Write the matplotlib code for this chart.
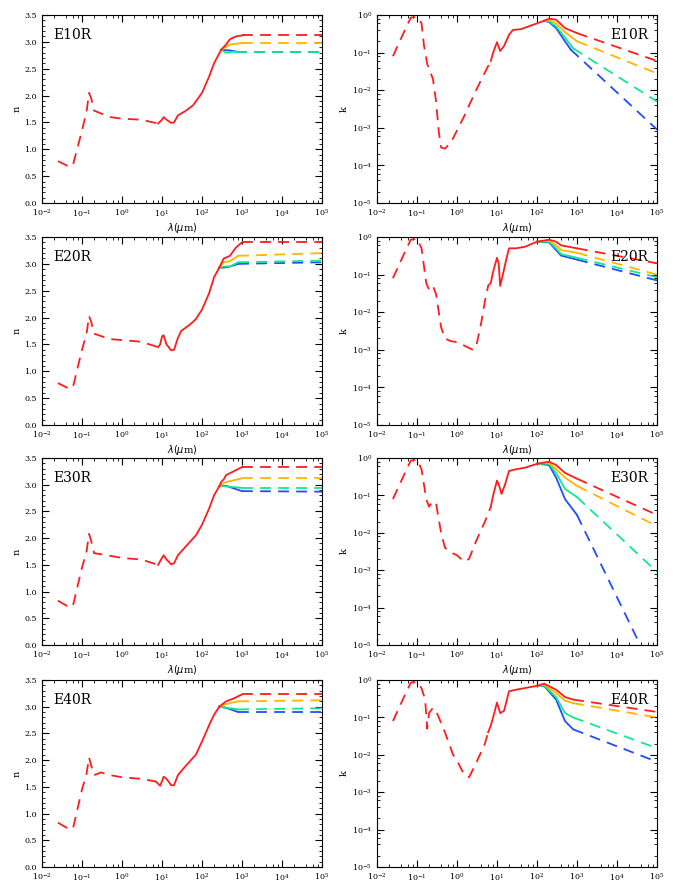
import matplotlib
matplotlib.use("Agg")
import matplotlib.pyplot as plt
import matplotlib.ticker as mticker

models = ["E10R", "E20R", "E30R", "E40R"]
colors = ["#1f4dff", "#10e890", "#ffb400", "#ff1c1c"]   # blue, green, orange, red

# ---- n: dashed short-wavelength part (red), common solid part, per-colour branches
n_short = {
    "E10R": ([0.025, 0.05, 0.06, 0.1, 0.13, 0.15, 0.17, 0.2, 0.5, 1, 3, 8],
             [0.78, 0.67, 0.72, 1.35, 1.7, 2.05, 1.95, 1.72, 1.6, 1.57, 1.55, 1.48]),
    "E20R": ([0.025, 0.05, 0.06, 0.1, 0.13, 0.15, 0.17, 0.2, 0.5, 1, 3, 8],
             [0.78, 0.67, 0.72, 1.4, 1.7, 2.03, 1.92, 1.7, 1.6, 1.58, 1.55, 1.45]),
    "E30R": ([0.025, 0.05, 0.06, 0.1, 0.13, 0.15, 0.17, 0.2, 0.5, 1, 3, 8],
             [0.83, 0.7, 0.75, 1.45, 1.75, 2.08, 1.95, 1.72, 1.67, 1.63, 1.6, 1.5]),
    "E40R": ([0.025, 0.05, 0.06, 0.1, 0.13, 0.15, 0.17, 0.2, 0.3, 0.5, 1, 3, 7],
             [0.83, 0.7, 0.73, 1.45, 1.75, 2.05, 1.9, 1.72, 1.77, 1.72, 1.68, 1.65, 1.6]),
}
n_mid = {
    "E10R": ([8, 10, 11, 13, 17, 20, 25, 40, 60, 100, 150, 200, 300],
             [1.48, 1.55, 1.6, 1.55, 1.49, 1.5, 1.63, 1.72, 1.82, 2.05, 2.35, 2.6, 2.85]),
    "E20R": ([8, 9, 10, 11, 13, 17, 20, 25, 30, 50, 70, 100, 150, 200, 270],
             [1.45, 1.5, 1.65, 1.67, 1.5, 1.39, 1.4, 1.62, 1.75, 1.87, 1.97, 2.15, 2.45, 2.75, 2.93]),
    "E30R": ([8, 10, 11, 13, 17, 20, 25, 40, 70, 100, 150, 200, 270],
             [1.5, 1.63, 1.68, 1.6, 1.51, 1.53, 1.68, 1.85, 2.05, 2.25, 2.55, 2.8, 2.97]),
    "E40R": ([7, 9, 11, 13, 17, 20, 25, 40, 70, 100, 150, 200, 270],
             [1.6, 1.52, 1.69, 1.65, 1.53, 1.53, 1.72, 1.9, 2.1, 2.35, 2.65, 2.85, 3.0]),
}
# branches: blue, green, orange, red -> (lam, values, dashed end value at 1e5)
n_branch = {
    "E10R": [([500, 700], [2.84, 2.82], 2.82),
             ([400, 700], [2.8, 2.82], 2.82),
             ([500, 1000], [2.95, 2.98], 2.98),
             ([400, 500, 700, 1000], [2.95, 3.05, 3.1, 3.12], 3.12)],
    "E20R": [([350, 500, 800], [2.93, 2.95, 3.0], 3.03),
             ([350, 500, 800], [2.95, 2.95, 3.03], 3.06),
             ([350, 500, 800], [3.03, 3.05, 3.15], 3.2),
             ([350, 500, 700, 1000], [3.1, 3.15, 3.3, 3.4], 3.4)],
    "E30R": [([400, 1000], [2.98, 2.88], 2.87),
             ([350, 400, 1000], [2.97, 2.97, 2.94], 2.94),
             ([300, 400, 1000], [3.0, 3.05, 3.12], 3.12),
             ([300, 350, 400, 1000], [3.05, 3.1, 3.18, 3.33], 3.33)],
    "E40R": [([400, 800], [2.98, 2.9], 2.9),
             ([400, 800], [2.98, 2.95], 2.97),
             ([400, 800], [3.05, 3.1], 3.12),
             ([400, 600, 1000], [3.1, 3.15, 3.23], 3.23)],
}

# ---- k
k_short = {
    "E10R": ([0.025, 0.05, 0.07, 0.1, 0.13, 0.15, 0.18, 0.25, 0.3, 0.35, 0.4, 0.5, 0.7, 1.5, 3, 5, 7],
             [0.08, 0.4, 0.85, 0.9, 0.6, 0.15, 0.05, 0.02, 0.005, 0.0008, 0.0003, 0.00028, 0.0004,
              0.002, 0.01, 0.03, 0.06]),
    "E20R": ([0.025, 0.05, 0.07, 0.1, 0.13, 0.17, 0.2, 0.25, 0.3, 0.4, 0.5, 0.7, 1, 1.5, 2.5, 3, 4, 5, 6],
             [0.08, 0.4, 0.85, 0.9, 0.5, 0.06, 0.04, 0.05, 0.03, 0.004, 0.002, 0.0017, 0.0016,
              0.0013, 0.001, 0.0012, 0.005, 0.02, 0.05]),
    "E30R": ([0.025, 0.05, 0.07, 0.1, 0.13, 0.17, 0.2, 0.25, 0.3, 0.4, 0.5, 0.7, 1, 1.5, 2, 3, 5, 7],
             [0.08, 0.4, 0.85, 0.9, 0.5, 0.08, 0.05, 0.07, 0.06, 0.01, 0.004, 0.003, 0.0025,
              0.0017, 0.002, 0.006, 0.02, 0.05]),
    "E40R": ([0.025, 0.05, 0.07, 0.1, 0.13, 0.16, 0.18, 0.2, 0.25, 0.3, 0.5, 0.8, 1, 1.5, 2, 3, 5, 6],
             [0.08, 0.4, 0.85, 0.9, 0.6, 0.3, 0.05, 0.13, 0.18, 0.15, 0.04, 0.01, 0.007, 0.003,
              0.0025, 0.006, 0.02, 0.04]),
}
k_mid = {
    "E10R": ([7, 8, 10, 12, 15, 20, 25, 40, 100, 150],
             [0.06, 0.1, 0.19, 0.11, 0.15, 0.3, 0.4, 0.42, 0.6, 0.7]),
    "E20R": ([6, 7, 8, 10, 11, 12, 14, 17, 20, 30, 50, 100],
             [0.05, 0.06, 0.12, 0.28, 0.2, 0.05, 0.1, 0.25, 0.5, 0.5, 0.55, 0.75]),
    "E30R": ([7, 8, 10, 11, 13, 16, 20, 30, 50, 100],
             [0.05, 0.1, 0.25, 0.2, 0.11, 0.2, 0.45, 0.5, 0.55, 0.7]),
    "E40R": ([6, 7, 8, 10, 12, 15, 20, 30, 100],
             [0.04, 0.06, 0.1, 0.25, 0.13, 0.15, 0.5, 0.55, 0.7]),
}
# branches: blue, green, orange, red -> (lam, values, dashed end lam, dashed end value)
k_branch = {
    "E10R": [([200, 300, 500, 700], [0.65, 0.45, 0.2, 0.12], 1e5, 0.0009),
             ([200, 300, 500, 800], [0.68, 0.5, 0.25, 0.13], 1e5, 0.005),
             ([200, 300, 500, 1000], [0.75, 0.6, 0.35, 0.2], 1e5, 0.028),
             ([200, 300, 500, 1000], [0.8, 0.75, 0.45, 0.33], 1e5, 0.06)],
    "E20R": [([200, 300, 400, 1000], [0.72, 0.45, 0.32, 0.25], 1e5, 0.07),
             ([200, 300, 400, 1000], [0.75, 0.5, 0.35, 0.28], 1e5, 0.085),
             ([200, 300, 400, 1000], [0.8, 0.6, 0.45, 0.38], 1e5, 0.1),
             ([200, 300, 400, 1000], [0.85, 0.75, 0.6, 0.5], 1e5, 0.2)],
    "E30R": [([200, 300, 500, 1000], [0.65, 0.3, 0.08, 0.03], 3.5e4, 1.2e-5),
             ([200, 300, 500, 1000], [0.7, 0.4, 0.15, 0.09], 1e5, 0.0009),
             ([200, 300, 500, 1000], [0.75, 0.5, 0.3, 0.18], 1e5, 0.015),
             ([200, 300, 500, 1000], [0.8, 0.65, 0.4, 0.28], 1e5, 0.03)],
    "E40R": [([150, 300, 500, 800], [0.7, 0.3, 0.08, 0.048], 1e5, 0.0065),
             ([150, 300, 500, 800], [0.72, 0.35, 0.13, 0.1], 1e5, 0.015),
             ([150, 300, 500, 800], [0.75, 0.45, 0.28, 0.24], 1e5, 0.1),
             ([150, 300, 500, 800], [0.8, 0.55, 0.35, 0.3], 1e5, 0.14)],
}

plt.rcParams["font.family"] = ["DejaVu Serif"]
W, H = 673, 885
fig = plt.figure(figsize=(W / 100, H / 100), dpi=100)

rows_px = [(15, 203), (237, 425), (458, 645), (680, 867)]
cols_px = [(42, 322), (377, 657)]
DASH = (0, (6, 4))
LW = 1.3


def style_axes(ax, logy):
    ax.set_xscale("log")
    ax.set_xlim(1e-2, 1e5)
    ax.xaxis.set_major_locator(mticker.LogLocator(base=10, numticks=20))
    ax.xaxis.set_minor_locator(mticker.LogLocator(base=10, subs=[0.2, 0.4, 0.6, 0.8], numticks=20))
    ax.xaxis.set_minor_formatter(mticker.NullFormatter())
    if logy:
        ax.set_yscale("log")
        ax.set_ylim(1e-5, 1.0)
        ax.yaxis.set_minor_locator(mticker.LogLocator(base=10, subs=[0.2, 0.4, 0.6, 0.8], numticks=20))
        ax.yaxis.set_minor_formatter(mticker.NullFormatter())
    else:
        ax.set_ylim(0, 3.5)
        ax.yaxis.set_major_locator(mticker.MultipleLocator(0.5))
        ax.yaxis.set_major_formatter(mticker.FormatStrFormatter("%.1f"))
        ax.yaxis.set_minor_locator(mticker.MultipleLocator(0.1))
    ax.tick_params(which="both", direction="in", top=True, right=True, labelsize=5.8)
    ax.tick_params(which="major", length=5)
    ax.tick_params(which="minor", length=2.5)
    ax.set_xlabel(r"$\lambda(\mu$m$)$", fontsize=7, labelpad=1)


for i, m in enumerate(models):
    top, bot = rows_px[i]
    # n panel
    l, r = cols_px[0]
    ax = fig.add_axes([l / W, 1 - bot / H, (r - l) / W, (bot - top) / H])
    lam, val = n_short[m]
    ax.plot(lam, val, color=colors[3], lw=LW, linestyle=DASH)
    mlam, mval = n_mid[m]
    for c, (blam, bval, end) in zip(colors, n_branch[m]):
        ax.plot([mlam[-1]] + blam, [mval[-1]] + bval, color=c, lw=LW)
        ax.plot([blam[-1], 1e5], [bval[-1], end], color=c, lw=LW, linestyle=DASH)
    ax.plot(mlam, mval, color=colors[3], lw=LW)
    style_axes(ax, False)
    ax.set_ylabel("n", fontsize=7, labelpad=2)
    ax.text(0.04, 0.93, m, transform=ax.transAxes, fontsize=10, va="top", ha="left")

    # k panel
    l, r = cols_px[1]
    ax = fig.add_axes([l / W, 1 - bot / H, (r - l) / W, (bot - top) / H])
    lam, val = k_short[m]
    ax.plot(lam, val, color=colors[3], lw=LW, linestyle=DASH)
    mlam, mval = k_mid[m]
    for c, (blam, bval, elam, end) in zip(colors, k_branch[m]):
        ax.plot([mlam[-1]] + blam, [mval[-1]] + bval, color=c, lw=LW)
        ax.plot([blam[-1], elam], [bval[-1], end], color=c, lw=LW, linestyle=DASH)
    ax.plot(mlam, mval, color=colors[3], lw=LW)
    style_axes(ax, True)
    ax.set_ylabel("k", fontsize=7, labelpad=2)
    ax.text(0.97, 0.93, m, transform=ax.transAxes, fontsize=10, va="top", ha="right")

fig.savefig("out.png", dpi=100)
